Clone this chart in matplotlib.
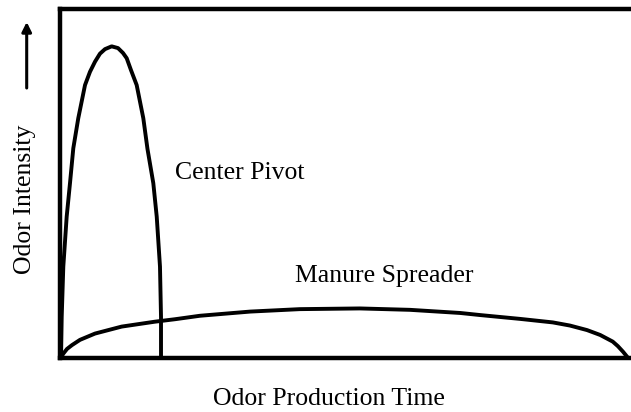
import matplotlib
matplotlib.use("Agg")
import matplotlib.pyplot as plt

# Data (arbitrary units: time 0-100, intensity 0-100)
pivot_time = [0.18, 0.30, 0.58, 1.17, 1.75, 2.33, 3.20, 4.38, 5.25, 6.13, 7.00, 7.88,
              9.05, 10.16, 11.03, 11.68, 12.43, 13.43, 14.59, 15.32, 16.34, 16.94,
              17.51, 17.69, 17.69]
pivot_intensity = [0, 11.8, 26.2, 40.5, 50.1, 60.1, 68.7, 78.2, 82.0, 84.9, 87.2, 88.5,
                   89.3, 88.8, 87.4, 85.9, 82.5, 78.2, 68.7, 59.9, 50.1, 40.5,
                   26.2, 11.8, 0]

spreader_time = [0.18, 0.53, 1.23, 2.10, 3.50, 6.13, 10.8, 16.6, 20.1, 24.5, 33.3,
                 42.0, 52.5, 61.3, 70.1, 73.6, 77.1, 80.6, 86.3, 89.3, 92.3, 94.6,
                 96.8, 97.7, 98.6, 99.5]
spreader_intensity = [0, 1.15, 2.6, 3.7, 5.2, 7.0, 9.0, 10.4, 11.1, 12.1, 13.3,
                      14.0, 14.2, 13.8, 12.9, 12.3, 11.75, 11.2, 10.2, 9.3, 8.0, 6.6,
                      4.7, 3.4, 1.8, 0]

labels = {"pivot": "Center Pivot", "spreader": "Manure Spreader"}
xlabel = "Odor Production Time"
ylabel = "Odor Intensity"

plt.rcParams['font.family'] = ['Liberation Serif', 'DejaVu Serif']

W, H = 631, 412
fig = plt.figure(figsize=(W / 100, H / 100), dpi=100)
ax = fig.add_axes([60 / W, (H - 358) / H, (631 - 60) / W, (358 - 9) / H])
ax.set_xlim(0, 100)
ax.set_ylim(0, 100)

ax.plot(pivot_time, pivot_intensity, color='black', lw=2.8,
        solid_joinstyle='round', solid_capstyle='butt')
ax.plot(spreader_time, spreader_intensity, color='black', lw=2.8,
        solid_joinstyle='round', solid_capstyle='butt')

ax.text(20.1, 51.3, labels["pivot"], fontsize=18.5, ha='left', va='baseline')
ax.text(41.2, 21.8, labels["spreader"], fontsize=18.5, ha='left', va='baseline')

ax.set_xticks([])
ax.set_yticks([])
for side in ['left', 'top', 'bottom']:
    ax.spines[side].set_linewidth(3.2)
    ax.spines[side].set_color('black')
ax.spines['right'].set_visible(False)

fig.text(329 / W, (H - 405) / H, xlabel, fontsize=18.5, ha='center', va='baseline')
fig.text(25 / W, (H - 199) / H, ylabel, fontsize=18.5, ha='center', va='center',
         rotation=90)

ax.annotate('', xy=(26.7 / W, (H - 22) / H), xytext=(26.7 / W, (H - 88) / H),
            xycoords='figure fraction', textcoords='figure fraction',
            arrowprops=dict(arrowstyle='-|>', lw=2.2, color='black',
                            mutation_scale=14, shrinkA=0, shrinkB=0))

fig.savefig('out.png', dpi=100)
